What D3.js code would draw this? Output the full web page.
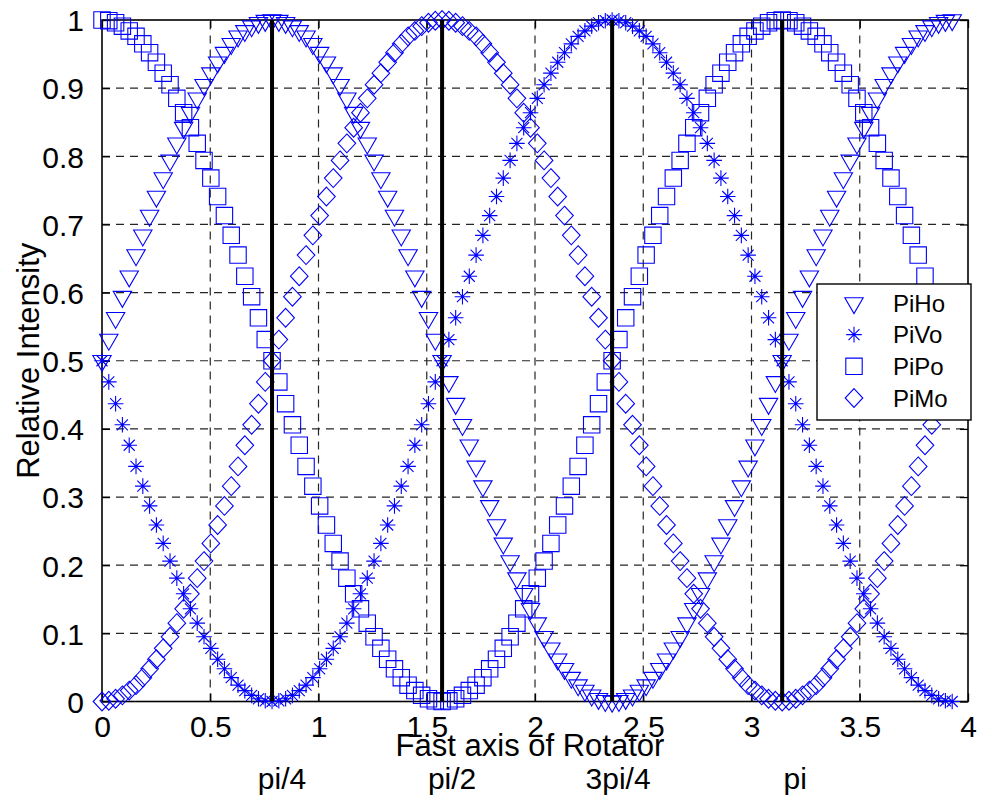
<!DOCTYPE html>
<html>
<head>
<meta charset="utf-8">
<script src="https://cdn.jsdelivr.net/npm/d3@7"></script>
<style>
  html, body { margin: 0; padding: 0; background: #fff; }
  svg { display: block; }
  text { font-family: "Liberation Sans", Arial, Helvetica, sans-serif; fill: #000; }
</style>
</head>
<body>
<svg id="chart" width="981" height="800"></svg>
<script>
// Rotator fast-axis angle (rad), sampled every pi/100 from 0 to 5pi/4
const angle = [
  0.0000, 0.0314, 0.0628, 0.0942, 0.1257, 0.1571, 0.1885, 0.2199, 0.2513, 0.2827,
  0.3142, 0.3456, 0.3770, 0.4084, 0.4398, 0.4712, 0.5027, 0.5341, 0.5655, 0.5969,
  0.6283, 0.6597, 0.6912, 0.7226, 0.7540, 0.7854, 0.8168, 0.8482, 0.8796, 0.9111,
  0.9425, 0.9739, 1.0053, 1.0367, 1.0681, 1.0996, 1.1310, 1.1624, 1.1938, 1.2252,
  1.2566, 1.2881, 1.3195, 1.3509, 1.3823, 1.4137, 1.4451, 1.4765, 1.5080, 1.5394,
  1.5708, 1.6022, 1.6336, 1.6650, 1.6965, 1.7279, 1.7593, 1.7907, 1.8221, 1.8535,
  1.8850, 1.9164, 1.9478, 1.9792, 2.0106, 2.0420, 2.0735, 2.1049, 2.1363, 2.1677,
  2.1991, 2.2305, 2.2619, 2.2934, 2.3248, 2.3562, 2.3876, 2.4190, 2.4504, 2.4819,
  2.5133, 2.5447, 2.5761, 2.6075, 2.6389, 2.6704, 2.7018, 2.7332, 2.7646, 2.7960,
  2.8274, 2.8588, 2.8903, 2.9217, 2.9531, 2.9845, 3.0159, 3.0473, 3.0788, 3.1102,
  3.1416, 3.1730, 3.2044, 3.2358, 3.2673, 3.2987, 3.3301, 3.3615, 3.3929, 3.4243,
  3.4558, 3.4872, 3.5186, 3.5500, 3.5814, 3.6128, 3.6442, 3.6757, 3.7071, 3.7385,
  3.7699, 3.8013, 3.8327, 3.8642, 3.8956, 3.9270
];

// Relative intensities
const piHo = [
  0.5, 0.531, 0.563, 0.594, 0.624, 0.655, 0.684, 0.713, 0.741, 0.768, 0.794, 0.819, 0.842, 0.864, 0.885, 0.905, 0.922, 0.938, 0.952, 0.965, 0.976, 0.984, 0.991, 0.996, 0.999, 1,
  0.999, 0.996, 0.991, 0.984, 0.976, 0.965, 0.952, 0.938, 0.922, 0.905, 0.885, 0.864, 0.842, 0.819, 0.794, 0.768, 0.741, 0.713, 0.684, 0.655, 0.624, 0.594, 0.563, 0.531, 0.5,
  0.469, 0.437, 0.406, 0.376, 0.345, 0.316, 0.287, 0.259, 0.232, 0.206, 0.181, 0.158, 0.136, 0.115, 0.095, 0.078, 0.062, 0.048, 0.035, 0.024, 0.016, 0.009, 0.004, 0.001, 0,
  0.001, 0.004, 0.009, 0.016, 0.024, 0.035, 0.048, 0.062, 0.078, 0.095, 0.115, 0.136, 0.158, 0.181, 0.206, 0.232, 0.259, 0.287, 0.316, 0.345, 0.376, 0.406, 0.437, 0.469, 0.5,
  0.531, 0.563, 0.594, 0.624, 0.655, 0.684, 0.713, 0.741, 0.768, 0.794, 0.819, 0.842, 0.864, 0.885, 0.905, 0.922, 0.938, 0.952, 0.965, 0.976, 0.984, 0.991, 0.996, 0.999, 1
];
const piVo = [
  0.5, 0.469, 0.437, 0.406, 0.376, 0.345, 0.316, 0.287, 0.259, 0.232, 0.206, 0.181, 0.158, 0.136, 0.115, 0.095, 0.078, 0.062, 0.048, 0.035, 0.024, 0.016, 0.009, 0.004, 0.001, 0,
  0.001, 0.004, 0.009, 0.016, 0.024, 0.035, 0.048, 0.062, 0.078, 0.095, 0.115, 0.136, 0.158, 0.181, 0.206, 0.232, 0.259, 0.287, 0.316, 0.345, 0.376, 0.406, 0.437, 0.469, 0.5,
  0.531, 0.563, 0.594, 0.624, 0.655, 0.684, 0.713, 0.741, 0.768, 0.794, 0.819, 0.842, 0.864, 0.885, 0.905, 0.922, 0.938, 0.952, 0.965, 0.976, 0.984, 0.991, 0.996, 0.999, 1,
  0.999, 0.996, 0.991, 0.984, 0.976, 0.965, 0.952, 0.938, 0.922, 0.905, 0.885, 0.864, 0.842, 0.819, 0.794, 0.768, 0.741, 0.713, 0.684, 0.655, 0.624, 0.594, 0.563, 0.531, 0.5,
  0.469, 0.437, 0.406, 0.376, 0.345, 0.316, 0.287, 0.259, 0.232, 0.206, 0.181, 0.158, 0.136, 0.115, 0.095, 0.078, 0.062, 0.048, 0.035, 0.024, 0.016, 0.009, 0.004, 0.001, 0
];
const piPo = [
  1, 0.999, 0.996, 0.991, 0.984, 0.976, 0.965, 0.952, 0.938, 0.922, 0.905, 0.885, 0.864, 0.842, 0.819, 0.794, 0.768, 0.741, 0.713, 0.684, 0.655, 0.624, 0.594, 0.563, 0.531, 0.5,
  0.469, 0.437, 0.406, 0.376, 0.345, 0.316, 0.287, 0.259, 0.232, 0.206, 0.181, 0.158, 0.136, 0.115, 0.095, 0.078, 0.062, 0.048, 0.035, 0.024, 0.016, 0.009, 0.004, 0.001, 0,
  0.001, 0.004, 0.009, 0.016, 0.024, 0.035, 0.048, 0.062, 0.078, 0.095, 0.115, 0.136, 0.158, 0.181, 0.206, 0.232, 0.259, 0.287, 0.316, 0.345, 0.376, 0.406, 0.437, 0.469, 0.5,
  0.531, 0.563, 0.594, 0.624, 0.655, 0.684, 0.713, 0.741, 0.768, 0.794, 0.819, 0.842, 0.864, 0.885, 0.905, 0.922, 0.938, 0.952, 0.965, 0.976, 0.984, 0.991, 0.996, 0.999, 1,
  0.999, 0.996, 0.991, 0.984, 0.976, 0.965, 0.952, 0.938, 0.922, 0.905, 0.885, 0.864, 0.842, 0.819, 0.794, 0.768, 0.741, 0.713, 0.684, 0.655, 0.624, 0.594, 0.563, 0.531, 0.5
];
const piMo = [
  0, 0.001, 0.004, 0.009, 0.016, 0.024, 0.035, 0.048, 0.062, 0.078, 0.095, 0.115, 0.136, 0.158, 0.181, 0.206, 0.232, 0.259, 0.287, 0.316, 0.345, 0.376, 0.406, 0.437, 0.469, 0.5,
  0.531, 0.563, 0.594, 0.624, 0.655, 0.684, 0.713, 0.741, 0.768, 0.794, 0.819, 0.842, 0.864, 0.885, 0.905, 0.922, 0.938, 0.952, 0.965, 0.976, 0.984, 0.991, 0.996, 0.999, 1,
  0.999, 0.996, 0.991, 0.984, 0.976, 0.965, 0.952, 0.938, 0.922, 0.905, 0.885, 0.864, 0.842, 0.819, 0.794, 0.768, 0.741, 0.713, 0.684, 0.655, 0.624, 0.594, 0.563, 0.531, 0.5,
  0.469, 0.437, 0.406, 0.376, 0.345, 0.316, 0.287, 0.259, 0.232, 0.206, 0.181, 0.158, 0.136, 0.115, 0.095, 0.078, 0.062, 0.048, 0.035, 0.024, 0.016, 0.009, 0.004, 0.001, 0,
  0.001, 0.004, 0.009, 0.016, 0.024, 0.035, 0.048, 0.062, 0.078, 0.095, 0.115, 0.136, 0.158, 0.181, 0.206, 0.232, 0.259, 0.287, 0.316, 0.345, 0.376, 0.406, 0.437, 0.469, 0.5
];

const seriesNames = ["PiHo", "PiVo", "PiPo", "PiMo"];
const seriesValues = [piHo, piVo, piPo, piMo];
const seriesMarkers = ["triangleDown", "asterisk", "square", "diamond"];

const xTicks = [0, 0.5, 1, 1.5, 2, 2.5, 3, 3.5, 4];
const yTicks = [0, 0.1, 0.2, 0.3, 0.4, 0.5, 0.6, 0.7, 0.8, 0.9, 1];

// Reference angles marked with heavy vertical lines
const markAngles = [0.7854, 1.5708, 2.3562, 3.1416];
const markLabels = ["pi/4", "pi/2", "3pi/4", "pi"];

const xLabel = "Fast axis of Rotator";
const yLabel = "Relative Intensity";

// ---------- layout ----------
const plot = { left: 102, right: 968, top: 20, bottom: 701.5 };
const blue = "#0000ff";

const svg = d3.select("#chart");
const x = d3.scaleLinear().domain([0, 4]).range([plot.left, plot.right]);
const y = d3.scaleLinear().domain([0, 1]).range([plot.bottom, plot.top]);

// grid
const grid = svg.append("g").attr("stroke", "#262626").attr("stroke-width", 1.2)
  .attr("stroke-dasharray", "8,6").attr("fill", "none");
grid.selectAll("line.gx").data(xTicks.slice(1, -1)).join("line").attr("class", "gx")
  .attr("x1", d => x(d)).attr("x2", d => x(d)).attr("y1", plot.bottom).attr("y2", plot.top);
grid.selectAll("line.gy").data(yTicks.slice(1, -1)).join("line").attr("class", "gy")
  .attr("y1", d => y(d)).attr("y2", d => y(d)).attr("x1", plot.left).attr("x2", plot.right);

// axes with inward ticks, mirrored on top and right
const tickLen = 8;
const axisBottom = d3.axisBottom(x).tickValues(xTicks).tickSizeInner(-tickLen).tickSizeOuter(0)
  .tickPadding(14).tickFormat(d3.format("~g"));
const axisTop = d3.axisTop(x).tickValues(xTicks).tickSizeInner(-tickLen).tickSizeOuter(0).tickFormat("");
const axisLeft = d3.axisLeft(y).tickValues(yTicks).tickSizeInner(-tickLen).tickSizeOuter(0)
  .tickPadding(18).tickFormat(d3.format("~g"));
const axisRight = d3.axisRight(y).tickValues(yTicks).tickSizeInner(-tickLen).tickSizeOuter(0).tickFormat("");

function styleAxis(g) {
  g.select(".domain").remove();
  g.selectAll(".tick line").attr("stroke", "#000").attr("stroke-width", 1.3);
  g.selectAll(".tick text").attr("font-size", 30).attr("fill", "#000")
    .attr("font-family", "Liberation Sans, Arial, sans-serif");
}
svg.append("g").attr("transform", `translate(0,${plot.bottom})`).call(axisBottom).call(styleAxis)
  .selectAll(".tick text").attr("dy", "0.72em");
svg.append("g").attr("transform", `translate(0,${plot.top})`).call(axisTop).call(styleAxis);
svg.append("g").attr("transform", `translate(${plot.left},0)`).call(axisLeft).call(styleAxis)
  .selectAll(".tick text").attr("dy", "0.36em");
svg.append("g").attr("transform", `translate(${plot.right},0)`).call(axisRight).call(styleAxis);

// box
svg.append("rect")
  .attr("x", plot.left).attr("y", plot.top)
  .attr("width", plot.right - plot.left).attr("height", plot.bottom - plot.top)
  .attr("fill", "none").attr("stroke", "#000").attr("stroke-width", 1.6);

// marker shapes
function markerPath(type) {
  switch (type) {
    case "triangleDown": {
      const r = 10.6;
      return `M${-0.866 * r},${-0.5 * r}L${0.866 * r},${-0.5 * r}L0,${r}Z`;
    }
    case "square":
      return "M-8.2,-8.2L8.2,-8.2L8.2,8.2L-8.2,8.2Z";
    case "diamond":
      return "M0,-9.4L8.8,0L0,9.4L-8.8,0Z";
    case "asterisk": {
      const a = 7.8, b = 5.5;
      return `M${-a},0L${a},0M0,${-a}L0,${a}M${-b},${-b}L${b},${b}M${-b},${b}L${b},${-b}`;
    }
  }
}

// data markers
const dataLayer = svg.append("g");
seriesValues.forEach((vals, i) => {
  dataLayer.append("g")
    .selectAll("path")
    .data(vals.map((v, k) => [angle[k], v]))
    .join("path")
    .attr("transform", d => `translate(${x(d[0])},${y(d[1])})`)
    .attr("d", markerPath(seriesMarkers[i]))
    .attr("fill", "none")
    .attr("stroke", blue)
    .attr("stroke-width", 1.1);
});

// heavy reference lines
svg.append("g").selectAll("line").data(markAngles).join("line")
  .attr("x1", d => x(d)).attr("x2", d => x(d))
  .attr("y1", y(0)).attr("y2", y(1))
  .attr("stroke", "#000").attr("stroke-width", 4);

// axis titles
svg.append("text")
  .attr("x", (plot.left + plot.right) / 2 - 5).attr("y", 756)
  .attr("text-anchor", "middle").attr("font-size", 31)
  .text(xLabel);
svg.append("text")
  .attr("transform", `translate(39,${(plot.top + plot.bottom) / 2}) rotate(-90)`)
  .attr("text-anchor", "middle").attr("font-size", 31)
  .text(yLabel);

// labels under the reference lines
const labelShift = [10, 10, 6, 13];
svg.append("g").selectAll("text").data(markAngles).join("text")
  .attr("x", (d, i) => x(d) + labelShift[i]).attr("y", 789)
  .attr("text-anchor", "middle").attr("font-size", 30)
  .text((d, i) => markLabels[i]);

// legend
const legend = svg.append("g");
legend.append("rect")
  .attr("x", 817).attr("y", 284).attr("width", 154).attr("height", 136)
  .attr("fill", "#fff").attr("stroke", "#000").attr("stroke-width", 1.4);
const rowY = d3.scalePoint().domain(seriesNames).range([303, 398]);
seriesNames.forEach((name, i) => {
  legend.append("path")
    .attr("transform", `translate(854,${rowY(name)})`)
    .attr("d", markerPath(seriesMarkers[i]))
    .attr("fill", "none").attr("stroke", blue).attr("stroke-width", 1.1);
  legend.append("text")
    .attr("x", 893).attr("y", rowY(name)).attr("dy", "0.36em")
    .attr("font-size", 24).text(name);
});
</script>
</body>
</html>
